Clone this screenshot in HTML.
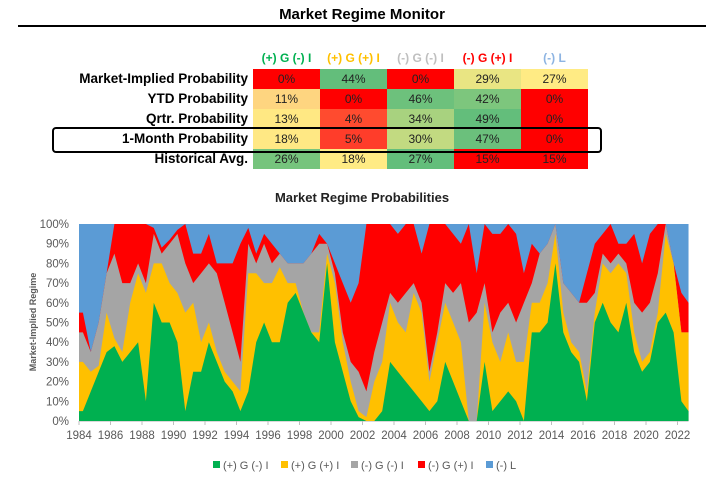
<!DOCTYPE html>
<html><head><meta charset="utf-8"><style>
body{margin:0;width:724px;height:484px;background:#fff;font-family:"Liberation Sans",sans-serif;position:relative;overflow:hidden}
.abs{position:absolute}
.lbl{position:absolute;left:40px;width:208px;text-align:right;font-weight:bold;font-size:13.5px;color:#000;line-height:20px}
.cell{position:absolute;width:67px;height:20px;line-height:20px;text-align:center;font-size:12px;color:#222}
.hdr{position:absolute;width:67px;text-align:center;font-size:12px;font-weight:bold;top:51px}
</style></head><body>
<div class="abs" style="left:0;width:724px;top:6px;text-align:center;font-weight:bold;font-size:15px">Market Regime Monitor</div>
<div class="abs" style="left:18px;width:688px;top:25px;height:2px;background:#000"></div>
<div id="table"></div>
<div class="abs" style="left:52px;top:127px;width:546px;height:22px;border:2px solid #000;border-radius:4px"></div>
<div class="abs" style="left:0;width:724px;top:190px;text-align:center;font-weight:bold;font-size:13px;color:#222">Market Regime Probabilities</div>
<svg class="abs" style="left:0;top:0" width="724" height="484" id="chart"></svg>
<script>
const headers=["(+) G (-) I","(+) G (+) I","(-) G (-) I","(-) G (+) I","(-) L"];
const headerColors=["#00B050","#FFC000","#BFBFBF","#FF0000","#8DB4E2"];
const rowLabels=["Market-Implied Probability","YTD Probability","Qrtr. Probability","1-Month Probability","Historical Avg."];
const tableVals=[["0%","44%","0%","29%","27%"],["11%","0%","46%","42%","0%"],["13%","4%","34%","49%","0%"],["18%","5%","30%","47%","0%"],["26%","18%","27%","15%","15%"]];
const tableColors=[["#FF0000","#63BE7B","#FF0000","#E9E583","#FFEB84"],["#FED580","#FF0000","#6DC17C","#7DC67D","#FF0000"],["#FFE883","#FF4B2F","#A8D27F","#63BE7B","#FF0000"],["#FFE884","#FF3D2A","#C2DA81","#6BC07C","#FF0000"],["#76C47D","#FFEB84","#63BE7B","#FF0000","#FF0000"]];
const T=document.getElementById('table');
headers.forEach((h,i)=>{const d=document.createElement('div');d.className='hdr';d.style.left=(253+i*67)+'px';d.style.color=headerColors[i];d.textContent=h;


T.appendChild(d);});
rowLabels.forEach((r,j)=>{const l=document.createElement('div');l.className='lbl';l.style.top=(69+j*20)+'px';l.textContent=r;


T.appendChild(l);
tableVals[j].forEach((v,i)=>{const c=document.createElement('div');c.className='cell';c.style.left=(253+i*67)+'px';c.style.top=(69+j*20)+'px';c.style.background=tableColors[j][i];c.textContent=v;


T.appendChild(c);});});

// chart data: half-year samples from 1984.0, cumulative stack tops (%)
const startYear=1984, step=0.5;
const greenTop=[5,15,25,35,38,30,35,40,10,60,50,50,40,5,25,25,40,30,20,15,5,15,40,50,40,40,60,65,55,45,40,80,40,25,10,2,0,0,5,30,25,20,15,10,5,10,30,20,10,0,0,30,5,10,15,10,0,45,45,50,80,45,35,30,10,50,60,50,45,60,35,25,30,50,55,45,10,5];
const yellowTop=[30,25,28,55,42,35,60,75,65,80,80,70,65,55,60,40,50,35,25,20,15,75,75,70,70,78,70,70,55,45,45,85,70,40,20,5,2,20,30,60,50,45,65,55,20,40,60,50,40,0,0,60,40,30,45,30,30,60,60,70,95,55,40,35,15,55,80,75,80,75,45,30,35,55,95,80,45,45];
const grayTop=[45,35,50,75,85,70,70,80,70,95,85,90,95,80,70,75,80,75,60,45,30,90,80,90,80,85,80,80,80,85,90,90,75,45,30,25,15,35,50,65,60,65,70,60,25,45,70,65,70,50,55,70,45,55,60,50,60,70,85,90,100,70,65,60,60,65,85,80,85,80,60,55,60,75,100,80,45,45];
const redTop=[55,35,50,75,100,100,100,100,100,98,88,92,97,100,85,85,95,80,80,80,90,98,85,95,90,85,80,80,80,85,95,90,80,70,60,70,100,100,100,100,95,100,100,85,100,100,100,95,90,100,75,100,95,95,100,95,75,90,85,90,100,70,65,60,75,90,95,100,90,90,95,80,95,100,100,80,65,60];
const yTicks=[0,10,20,30,40,50,60,70,80,90,100];
const xTicks=[1984,1986,1988,1990,1992,1994,1996,1998,2000,2002,2004,2006,2008,2010,2012,2014,2016,2018,2020,2022];
const seriesNames=["(+) G (-) I","(+) G (+) I","(-) G (-) I","(-) G (+) I","(-) L"];
const seriesColors=["#00B050","#FFC000","#A5A5A5","#FF0000","#5B9BD5"];
const X0=79,PX_PER_YEAR=15.75,Y0=421,Y1=224,END=2022.7;
const xs=y=>X0+(y-startYear)*PX_PER_YEAR;
const ys=v=>Y0-(v/100)*(Y0-Y1);
const S=document.getElementById('chart');const NS='http://www.w3.org/2000/svg';
function mk(t,a){const e=document.createElementNS(NS,t);for(const k in a)e.setAttribute(k,a[k]);S.appendChild(e);return e;}
const n=greenTop.length;
const bg=mk('rect',{x:xs(startYear),y:ys(100),width:xs(END)-xs(startYear),height:ys(0)-ys(100),fill:seriesColors[4]});


const tops=[redTop,grayTop,yellowTop,greenTop];const cols=[seriesColors[3],seriesColors[2],seriesColors[1],seriesColors[0]];
const names=['area-neg-g-pos-i','area-neg-g-neg-i','area-pos-g-pos-i','area-pos-g-neg-i'];
tops.forEach((arr,k)=>{let pts=[];for(let i=0;i<n;i++){const yv=Math.min(END,startYear+i*step+step/2);pts.push(xs(yv).toFixed(1)+','+ys(arr[i]).toFixed(1));}
pts.unshift(xs(startYear)+','+ys(arr[0]));pts.push(xs(END)+','+ys(arr[n-1]));
pts.push(xs(END)+','+ys(0));pts.push(xs(startYear)+','+ys(0));
const p=mk('polygon',{points:pts.join(' '),fill:cols[k]});

});
mk('line',{x1:xs(startYear),x2:xs(END),y1:Y0+0.5,y2:Y0+0.5,stroke:'#D9D9D9'});
yTicks.forEach(v=>{const t=mk('text',{x:69,y:ys(v)+4,'text-anchor':'end','font-size':11.5,fill:'#595959','font-family':'Liberation Sans'});t.textContent=v+'%';

});
xTicks.forEach(v=>{mk('line',{x1:xs(v),x2:xs(v),y1:Y0,y2:Y0+4,stroke:'#BFBFBF'});const t=mk('text',{x:xs(v),y:Y0+18,'text-anchor':'middle','font-size':11.5,fill:'#595959','font-family':'Liberation Sans'});t.textContent=v;

});
const yt=mk('text',{x:0,y:0,transform:'translate(36,322) rotate(-90)','text-anchor':'middle','font-size':9,'font-weight':'bold',fill:'#595959','font-family':'Liberation Sans'});yt.textContent='Market-Implied Regime';


const lx=[213,281,351,418,486];
seriesNames.forEach((s,i)=>{const r=mk('rect',{x:lx[i],y:461,width:7,height:7,fill:seriesColors[i]});


const t=mk('text',{x:lx[i]+10,y:469,'font-size':11,fill:'#595959','font-family':'Liberation Sans'});t.textContent=s;

});
</script>
</body></html>
